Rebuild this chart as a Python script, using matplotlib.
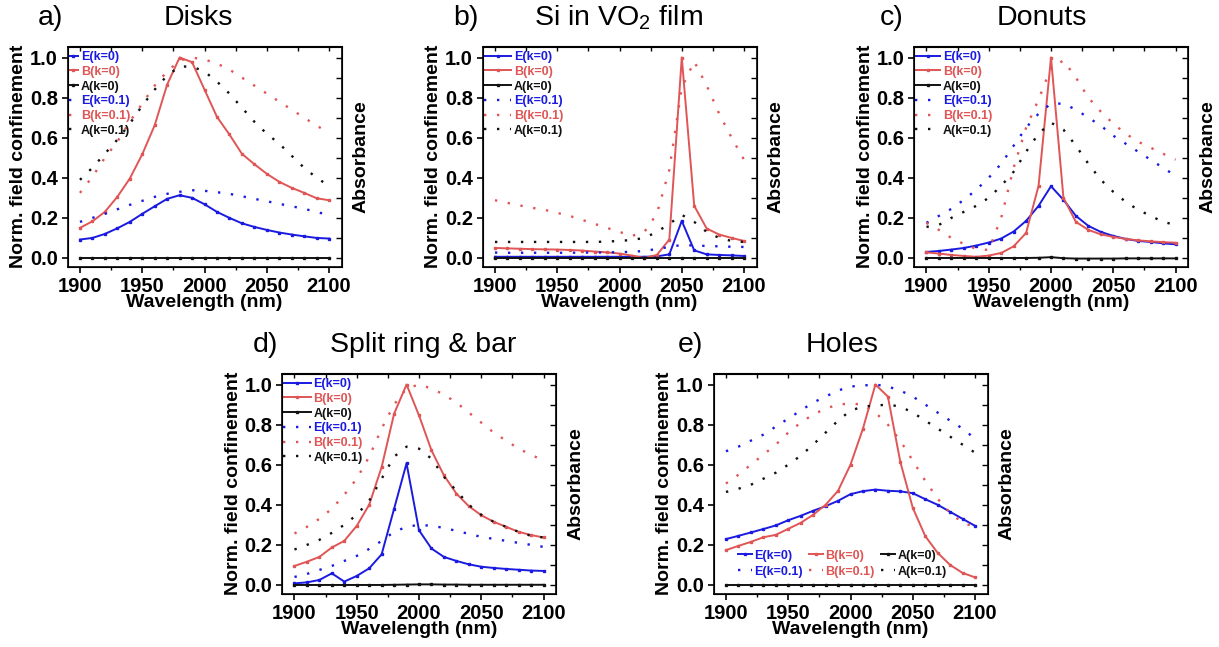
import numpy as np
import matplotlib
matplotlib.use("Agg")
import matplotlib.pyplot as plt
from matplotlib.ticker import MultipleLocator

plt.rcParams['font.family'] = ['Liberation Sans', 'DejaVu Sans']

wl = [1900, 1910, 1920, 1930, 1940, 1950, 1960, 1970, 1980, 1990, 2000,
      2010, 2020, 2030, 2040, 2050, 2060, 2070, 2080, 2090, 2100]

# ---- a) Disks
a_E0 = [0.092, 0.10, 0.12, 0.148, 0.18, 0.22, 0.258, 0.295, 0.313, 0.30, 0.268,
        0.23, 0.20, 0.173, 0.155, 0.14, 0.127, 0.117, 0.108, 0.10, 0.097]
a_B0 = [0.15, 0.183, 0.23, 0.305, 0.396, 0.517, 0.662, 0.865, 1.0, 0.977, 0.84,
        0.704, 0.616, 0.52, 0.468, 0.42, 0.38, 0.35, 0.325, 0.298, 0.288]
a_A0 = [0.0] * 21
a_E1 = [0.18, 0.20, 0.22, 0.243, 0.265, 0.285, 0.305, 0.32, 0.33, 0.338, 0.335,
        0.328, 0.32, 0.308, 0.295, 0.283, 0.27, 0.258, 0.245, 0.23, 0.213]
a_B1 = [0.325, 0.405, 0.50, 0.58, 0.68, 0.77, 0.86, 0.93, 0.985, 1.0, 0.99,
        0.97, 0.94, 0.90, 0.86, 0.82, 0.78, 0.74, 0.70, 0.66, 0.625]
a_A1 = [0.39, 0.45, 0.52, 0.59, 0.67, 0.76, 0.84, 0.91, 0.955, 0.955, 0.93,
        0.88, 0.82, 0.75, 0.68, 0.62, 0.57, 0.51, 0.45, 0.40, 0.36]

# ---- b) Si in VO2 film
b_E0 = [0.006, 0.006, 0.006, 0.006, 0.006, 0.006, 0.006, 0.006, 0.006, 0.006, 0.006,
        0.006, 0.006, 0.008, 0.018, 0.185, 0.038, 0.018, 0.015, 0.013, 0.01]
b_B0 = [0.05, 0.048, 0.046, 0.044, 0.043, 0.042, 0.04, 0.037, 0.032, 0.028, 0.022,
        0.012, 0.0, 0.015, 0.092, 1.0, 0.26, 0.147, 0.117, 0.10, 0.085]
b_A0 = [0.002] * 21
b_E1 = [0.027, 0.026, 0.026, 0.026, 0.026, 0.026, 0.026, 0.027, 0.027, 0.028, 0.029,
        0.031, 0.035, 0.045, 0.055, 0.065, 0.062, 0.06, 0.058, 0.056, 0.055]
b_B1 = [0.288, 0.275, 0.262, 0.25, 0.24, 0.225, 0.21, 0.19, 0.17, 0.15, 0.13,
        0.11, 0.13, 0.22, 0.44, 0.85, 0.98, 0.86, 0.72, 0.60, 0.49]
b_A1 = [0.08, 0.08, 0.08, 0.08, 0.08, 0.08, 0.08, 0.08, 0.08, 0.082, 0.085,
        0.09, 0.10, 0.13, 0.17, 0.215, 0.18, 0.13, 0.10, 0.085, 0.08]

# ---- c) Donuts
c_E0 = [0.03, 0.035, 0.042, 0.05, 0.062, 0.077, 0.097, 0.132, 0.185, 0.26, 0.358,
        0.29, 0.21, 0.16, 0.13, 0.11, 0.095, 0.085, 0.08, 0.073, 0.068]
c_B0 = [0.028, 0.022, 0.015, 0.01, 0.006, 0.012, 0.025, 0.058, 0.125, 0.36, 1.0,
        0.30, 0.18, 0.14, 0.118, 0.105, 0.095, 0.088, 0.083, 0.079, 0.076]
c_A0 = [0.0, 0.0, 0.0, 0.0, 0.0, 0.0, 0.0, 0.0, 0.0, 0.001, 0.004,
        -0.001, -0.003, -0.003, -0.003, -0.003, -0.002, -0.002, -0.002, -0.002, -0.002]
c_E1 = [0.175, 0.21, 0.245, 0.29, 0.34, 0.40, 0.47, 0.56, 0.65, 0.72, 0.77,
        0.77, 0.74, 0.70, 0.66, 0.61, 0.57, 0.53, 0.49, 0.45, 0.41]
c_B1 = [0.175, 0.14, 0.10, 0.07, 0.045, 0.04, 0.20, 0.45, 0.65, 0.79, 0.95,
        0.985, 0.90, 0.80, 0.73, 0.67, 0.62, 0.58, 0.55, 0.52, 0.49]
c_A1 = [0.155, 0.165, 0.20, 0.23, 0.26, 0.30, 0.36, 0.43, 0.53, 0.62, 0.675,
        0.64, 0.56, 0.47, 0.39, 0.33, 0.28, 0.24, 0.21, 0.18, 0.165]

# ---- d) Split ring & bar
d_E0 = [0.008, 0.013, 0.025, 0.058, 0.017, 0.045, 0.083, 0.153, 0.38, 0.607, 0.273,
        0.182, 0.14, 0.12, 0.103, 0.091, 0.085, 0.08, 0.076, 0.072, 0.07]
d_B0 = [0.095, 0.116, 0.14, 0.187, 0.22, 0.295, 0.40, 0.588, 0.854, 1.0, 0.846,
        0.672, 0.547, 0.456, 0.393, 0.348, 0.315, 0.29, 0.265, 0.249, 0.237]
d_A0 = [0.0, 0.0, 0.0, 0.0, 0.0, 0.0, 0.0, 0.0, 0.001, 0.002, 0.003,
        0.003, 0.002, 0.002, 0.001, 0.001, 0.001, 0.001, 0.001, 0.001, 0.001]
d_E1 = [0.04, 0.055, 0.075, 0.095, 0.12, 0.145, 0.18, 0.22, 0.265, 0.29, 0.30,
        0.295, 0.285, 0.27, 0.255, 0.24, 0.23, 0.22, 0.21, 0.20, 0.19]
d_B1 = [0.257, 0.29, 0.33, 0.38, 0.45, 0.53, 0.64, 0.78, 0.90, 0.98, 1.0,
        0.98, 0.95, 0.91, 0.86, 0.81, 0.76, 0.72, 0.68, 0.65, 0.62]
d_A1 = [0.177, 0.20, 0.225, 0.26, 0.30, 0.35, 0.42, 0.53, 0.64, 0.69, 0.68,
        0.63, 0.54, 0.47, 0.40, 0.35, 0.315, 0.29, 0.265, 0.245, 0.237]

# ---- e) Holes
e_E0 = [0.229, 0.245, 0.262, 0.279, 0.297, 0.323, 0.345, 0.37, 0.393, 0.42, 0.453,
        0.468, 0.476, 0.47, 0.467, 0.458, 0.428, 0.40, 0.365, 0.33, 0.295]
e_B0 = [0.174, 0.195, 0.215, 0.238, 0.25, 0.28, 0.31, 0.35, 0.40, 0.47, 0.60,
        0.78, 1.0, 0.94, 0.614, 0.385, 0.244, 0.16, 0.10, 0.06, 0.038]
e_A0 = [0.0] * 21
e_E1 = [0.667, 0.69, 0.72, 0.75, 0.79, 0.83, 0.87, 0.91, 0.94, 0.97, 0.99,
        0.995, 1.0, 0.99, 0.97, 0.94, 0.90, 0.86, 0.82, 0.78, 0.73]
e_B1 = [0.506, 0.55, 0.60, 0.65, 0.70, 0.76, 0.81, 0.85, 0.88, 0.90, 0.905,
        0.90, 0.86, 0.80, 0.72, 0.62, 0.52, 0.43, 0.36, 0.31, 0.29]
e_A1 = [0.464, 0.48, 0.50, 0.53, 0.56, 0.60, 0.645, 0.70, 0.76, 0.82, 0.87,
        0.89, 0.895, 0.90, 0.89, 0.86, 0.82, 0.78, 0.74, 0.70, 0.66]

labels = ['E(k=0)', 'B(k=0)', 'A(k=0)', 'E(k=0.1)', 'B(k=0.1)', 'A(k=0.1)']
titles = ['Disks', 'Si in VO$_\\mathregular{2}$ film', 'Donuts', 'Split ring & bar', 'Holes']
letters = ['a)', 'b)', 'c)', 'd)', 'e)']

BLUE = '#1a1ae0'
RED = '#e05555'
BLACK = '#111111'
colors = [BLUE, RED, BLACK, BLUE, RED, BLACK]

W, H = 1219, 647
fig = plt.figure(figsize=(W / 100, H / 100), dpi=100)

def rect(l, t, w, h):
    return [l / W, 1 - (t + h) / H, w / W, h / H]

panels = [
    dict(pos=rect(67.5, 46.5, 274, 220.5), data=[a_E0, a_B0, a_A0, a_E1, a_B1, a_A1],
         title=(198, 18), letter=(38, 18), hl=0.75, leg='a'),
    dict(pos=rect(482.5, 46.5, 274, 220.5), data=[b_E0, b_B0, b_A0, b_E1, b_B1, b_A1],
         title=(619, 18), letter=(453, 18), hl=2.2, leg='b'),
    dict(pos=rect(914, 46.5, 274, 220.5), data=[c_E0, c_B0, c_A0, c_E1, c_B1, c_A1],
         title=(1042, 18), letter=(880, 18), hl=2.0, leg='c'),
    dict(pos=rect(282, 373.5, 274, 220.5), data=[d_E0, d_B0, d_A0, d_E1, d_B1, d_A1],
         title=(423, 345), letter=(253, 345), hl=2.2, leg='d'),
    dict(pos=rect(713.5, 373.5, 274, 220.5), data=[e_E0, e_B0, e_A0, e_E1, e_B1, e_A1],
         title=(842, 345), letter=(678, 345), hl=1.1, leg='e'),
]

LEG_SIZE = 9
for idx, p in enumerate(panels):
    ax = fig.add_axes(p['pos'])
    handles = []
    for i, (ys, c, lab) in enumerate(zip(p['data'], colors, labels)):
        if i < 3:
            h, = ax.plot(wl, ys, color=c, lw=1.4, marker='s', markersize=1.8, label=lab)
        else:
            h, = ax.plot(wl, ys, color=c, lw=1.7, linestyle=(0, (1, 4.5)), label=lab)
        handles.append(h)
    ax.set_xlim(1890, 2110)
    ax.set_ylim(-0.045, 1.055)
    ax.xaxis.set_major_locator(MultipleLocator(50))
    ax.xaxis.set_minor_locator(MultipleLocator(25))
    ax.set_yticks([0.0, 0.2, 0.4, 0.6, 0.8, 1.0])
    ax.set_yticklabels(['0.0', '0.2', '0.4', '0.6', '0.8', '1.0'])
    ax.tick_params(axis='both', which='major', direction='out', length=4, width=1.2,
                   labelsize=14.5, pad=3)
    ax.tick_params(axis='x', which='minor', direction='out', length=2.5, width=1.0)
    for lbl in ax.get_xticklabels() + ax.get_yticklabels():
        lbl.set_fontweight('bold')
    for s in ax.spines.values():
        s.set_linewidth(1.2)
    ax.set_xlabel('Wavelength (nm)', fontsize=14, fontweight='bold', labelpad=-1)
    ax.set_ylabel('Norm. field confinement', fontsize=14, fontweight='bold', labelpad=2)

    # right axis (Absorbance)
    ax2 = ax.twinx()
    ax2.set_ylim(-0.045, 1.055)
    ax2.yaxis.set_major_locator(MultipleLocator(0.1))
    ax2.tick_params(axis='y', direction='in', length=4, width=1.0, labelright=False)
    ax2.set_ylabel('Absorbance', fontsize=14, fontweight='bold', rotation=90, labelpad=8)
    # top axis ticks
    ax3 = ax.secondary_xaxis('top')
    ax3.xaxis.set_major_locator(MultipleLocator(25))
    ax3.tick_params(axis='x', direction='in', length=3.5, width=1.0, labeltop=False)

    if p['leg'] == 'e':
        order = [0, 3, 1, 4, 2, 5]
        hs = [handles[k] for k in order]
        leg = ax.legend(handles=hs, loc='lower center', bbox_to_anchor=(0.47, 0.045),
                        ncol=3, frameon=False, handlelength=p['hl'], handletextpad=0.2,
                        columnspacing=0.5, labelspacing=0.32, borderpad=0,
                        prop={'size': LEG_SIZE, 'weight': 'bold'})
        leg_colors = [colors[k] for k in order]
    else:
        leg = ax.legend(handles=handles, loc='upper left', bbox_to_anchor=(0, 0.985),
                        frameon=False, handlelength=p['hl'], handletextpad=0.2,
                        labelspacing=0.22, borderpad=0.1, borderaxespad=0,
                        prop={'size': LEG_SIZE, 'weight': 'bold'})
        leg_colors = colors
    for t, c in zip(leg.get_texts(), leg_colors):
        t.set_color(c)

    fig.text(p['title'][0] / W, 1 - p['title'][1] / H, titles[idx],
             ha='center', va='center', fontsize=20.5)
    fig.text(p['letter'][0] / W, 1 - p['letter'][1] / H, letters[idx],
             ha='left', va='center', fontsize=20.5)

fig.savefig('out.png', dpi=100)
